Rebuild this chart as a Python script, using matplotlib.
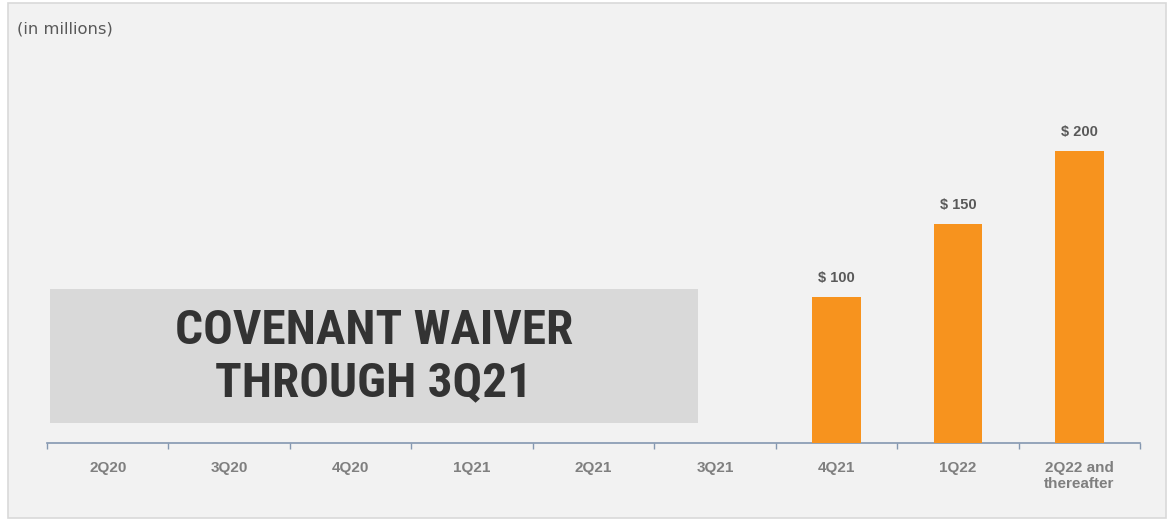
import matplotlib
matplotlib.use("Agg")
import matplotlib.pyplot as plt
from matplotlib.patches import Rectangle
from matplotlib import font_manager
import numpy as np

categories = ["2Q20", "3Q20", "4Q20", "1Q21", "2Q21", "3Q21", "4Q21", "1Q22", "2Q22 and\nthereafter"]
values = [0, 0, 0, 0, 0, 0, 100, 150, 200]
value_labels = ["", "", "", "", "", "", "$ 100", "$ 150", "$ 200"]

W, H = 1171, 521
fig = plt.figure(figsize=(W / 100, H / 100), dpi=100)
fig.patch.set_facecolor("white")

def fx(px):
    return px / W

def fy(py):
    return 1 - py / H

available = {f.name for f in font_manager.fontManager.ttflist}
cond_font = "DejaVu Sans"
for name in ["Roboto Condensed", "Asap Condensed", "Archivo Narrow", "Barlow Condensed",
             "Liberation Sans Narrow"]:
    if name in available:
        cond_font = name
        break

# outer panel
panel = Rectangle((fx(8), fy(518)), fx(1166) - fx(8), fy(3) - fy(518),
                  transform=fig.transFigure, facecolor="#f2f2f2",
                  edgecolor="#d9d9d9", linewidth=1.2, zorder=-10)
fig.patches.append(panel)

fig.text(fx(17), fy(29), "(in millions)", fontsize=11.8, color="#595959",
         ha="left", va="center", family="DejaVu Sans")

ax_left, ax_right, ax_base = 47, 1140, 443
units_px = 1.46
ymax = 250
ax = fig.add_axes([fx(ax_left), fy(ax_base), fx(ax_right) - fx(ax_left), ymax * units_px / H])
ax.set_facecolor("none")
ax.set_zorder(5)

x = np.arange(len(categories))
bars = ax.bar(x, values, width=0.4, color="#F7931E", zorder=3)
for xi, v, lab in zip(x, values, value_labels):
    if lab:
        ax.text(xi, v + 8, lab, ha="center", va="bottom", fontsize=10.5,
                fontweight="bold", color="#595959", family="Liberation Sans")

ax.set_xlim(-0.5, len(categories) - 0.5)
ax.set_ylim(0, ymax)
for s in ["top", "right", "left"]:
    ax.spines[s].set_visible(False)
ax.spines["bottom"].set_color("#8497b0")
ax.spines["bottom"].set_linewidth(1.2)
ax.set_yticks([])
ax.set_xticks(x)
ax.set_xticklabels(categories, fontsize=11, fontweight="bold", color="#7f7f7f",
                   family="Liberation Sans", linespacing=1.2, va="top")
ax.tick_params(axis="x", which="major", length=0, pad=13)
ax.set_xticks(np.arange(-0.5, len(categories), 1.0), minor=True)
ax.tick_params(axis="x", which="minor", length=4, width=1, color="#8497b0", direction="out")

# covenant waiver box
px_per_cat = (ax_right - ax_left) / len(categories)
def dx(px):
    return (px - ax_left) / px_per_cat - 0.5
def dy(py):
    return (ax_base - py) / units_px
bx0, bx1, by0, by1 = dx(50), dx(698), dy(423), dy(289)
ax.add_patch(Rectangle((bx0, by0), bx1 - bx0, by1 - by0, facecolor="#d9d9d9",
                       edgecolor="none", zorder=2))
ax.text((bx0 + bx1) / 2, dy(357), "COVENANT WAIVER\nTHROUGH 3Q21", ha="center", va="center",
        fontsize=35.5, color="#333333", family=cond_font, fontweight="bold", linespacing=1.18,
        zorder=4)

fig.savefig("out.png", dpi=100, facecolor=fig.get_facecolor())
